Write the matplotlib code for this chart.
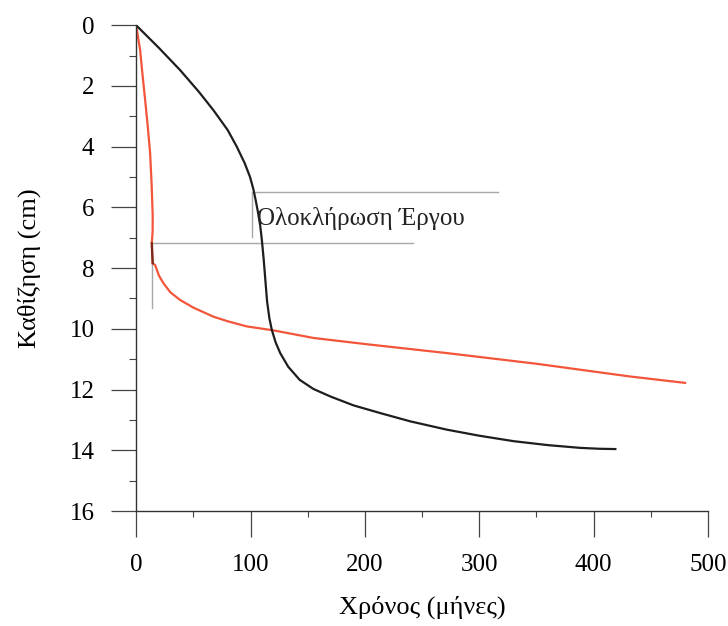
import matplotlib.pyplot as plt
from matplotlib.ticker import MultipleLocator

plt.rcParams['font.family'] = ['Liberation Serif', 'DejaVu Serif']

# Καμπύλη 1 (μαύρη)
black_x = [0, 20, 38.5, 55, 67.6, 80, 88, 95, 99.6, 102.5, 104.5, 106.5, 108.5, 110, 111.5, 113, 114.5, 116.5, 118.6,
           122, 126, 133, 143, 155, 170, 190, 213, 240, 271.6, 300, 330, 360, 388, 405, 419]
black_y = [0, 0.75, 1.48, 2.2, 2.8, 3.45, 4.0, 4.55, 5.0, 5.4, 5.76, 6.15, 6.6, 7.1, 7.7, 8.4, 9.1, 9.65, 10.03,
           10.45, 10.8, 11.25, 11.68, 11.98, 12.23, 12.52, 12.77, 13.05, 13.32, 13.52, 13.7, 13.83, 13.92, 13.95, 13.96]

# Καμπύλη 2 (κόκκινη)
red_x = [0, 3.5, 5.5, 7.9, 10.2, 12.2, 13.5, 14.5, 14.4, 13.7, 14.0, 14.5, 16.6, 20, 23.9, 30, 38.5,
         50, 67.6, 80, 96.7, 120, 155, 200, 272, 350, 432, 480]
red_y = [0, 0.82, 1.6, 2.47, 3.35, 4.2, 5.2, 6.3, 6.8, 7.18, 7.5, 7.84, 7.9, 8.25, 8.5, 8.8, 9.05,
         9.3, 9.6, 9.75, 9.92, 10.05, 10.3, 10.5, 10.8, 11.15, 11.57, 11.78]

# σκούρο τμήμα κοντά στη γωνία της κόκκινης
dark_x = [13.7, 14.0, 14.5]
dark_y = [7.18, 7.5, 7.84]

# Γραμμές ολοκλήρωσης έργου
mark1_x = [316, 101, 101]
mark1_y = [5.5, 5.5, 6.97]
mark2_x = [242, 14.3, 14.3]
mark2_y = [7.18, 7.18, 9.3]

fig = plt.figure(figsize=(7.28, 6.26), dpi=100)
ax = fig.add_axes([0.187, 0.1837, 0.7855, 0.776])

ax.plot(mark1_x, mark1_y, color='#a8a8a8', lw=1.0)
ax.plot(mark2_x, mark2_y, color='#a8a8a8', lw=1.0)
ax.plot(red_x, red_y, color='#f2553a', lw=1.6, solid_joinstyle='round')
ax.plot(dark_x, dark_y, color='#7a2a1a', lw=1.6)
ax.plot(black_x, black_y, color='#1e1e1e', lw=1.6, solid_joinstyle='round')

ax.text(106, 6.35, 'Ολοκλήρωση Έργου', fontsize=18, va='center', ha='left', color='#222222')

ax.set_xlim(0, 500)
ax.set_ylim(16, 0)
ax.xaxis.set_major_locator(MultipleLocator(100))
ax.xaxis.set_minor_locator(MultipleLocator(50))
ax.yaxis.set_major_locator(MultipleLocator(2))
ax.yaxis.set_minor_locator(MultipleLocator(1))

ax.spines['top'].set_visible(False)
ax.spines['right'].set_visible(False)
for s in ['left', 'bottom']:
    ax.spines[s].set_color('#333333')
    ax.spines[s].set_linewidth(1.0)

ax.tick_params(axis='x', which='major', direction='out', length=19, width=0.9, pad=12, labelsize=18, color='#444444')
ax.tick_params(axis='x', which='minor', direction='out', length=4.5, width=0.8, color='#444444')
ax.tick_params(axis='y', which='major', direction='out', length=18, width=0.9, pad=12, labelsize=18, color='#444444')
ax.tick_params(axis='y', which='minor', direction='out', length=5, width=0.8, color='#444444')

ax.set_xlabel('Χρόνος (μήνες)', fontsize=19)
ax.set_ylabel('Καθίζηση (cm)', fontsize=19)
ax.xaxis.set_label_coords(0.5, -0.175)
ax.yaxis.set_label_coords(-0.166, 0.5)

fig.savefig('out.png', dpi=100)
